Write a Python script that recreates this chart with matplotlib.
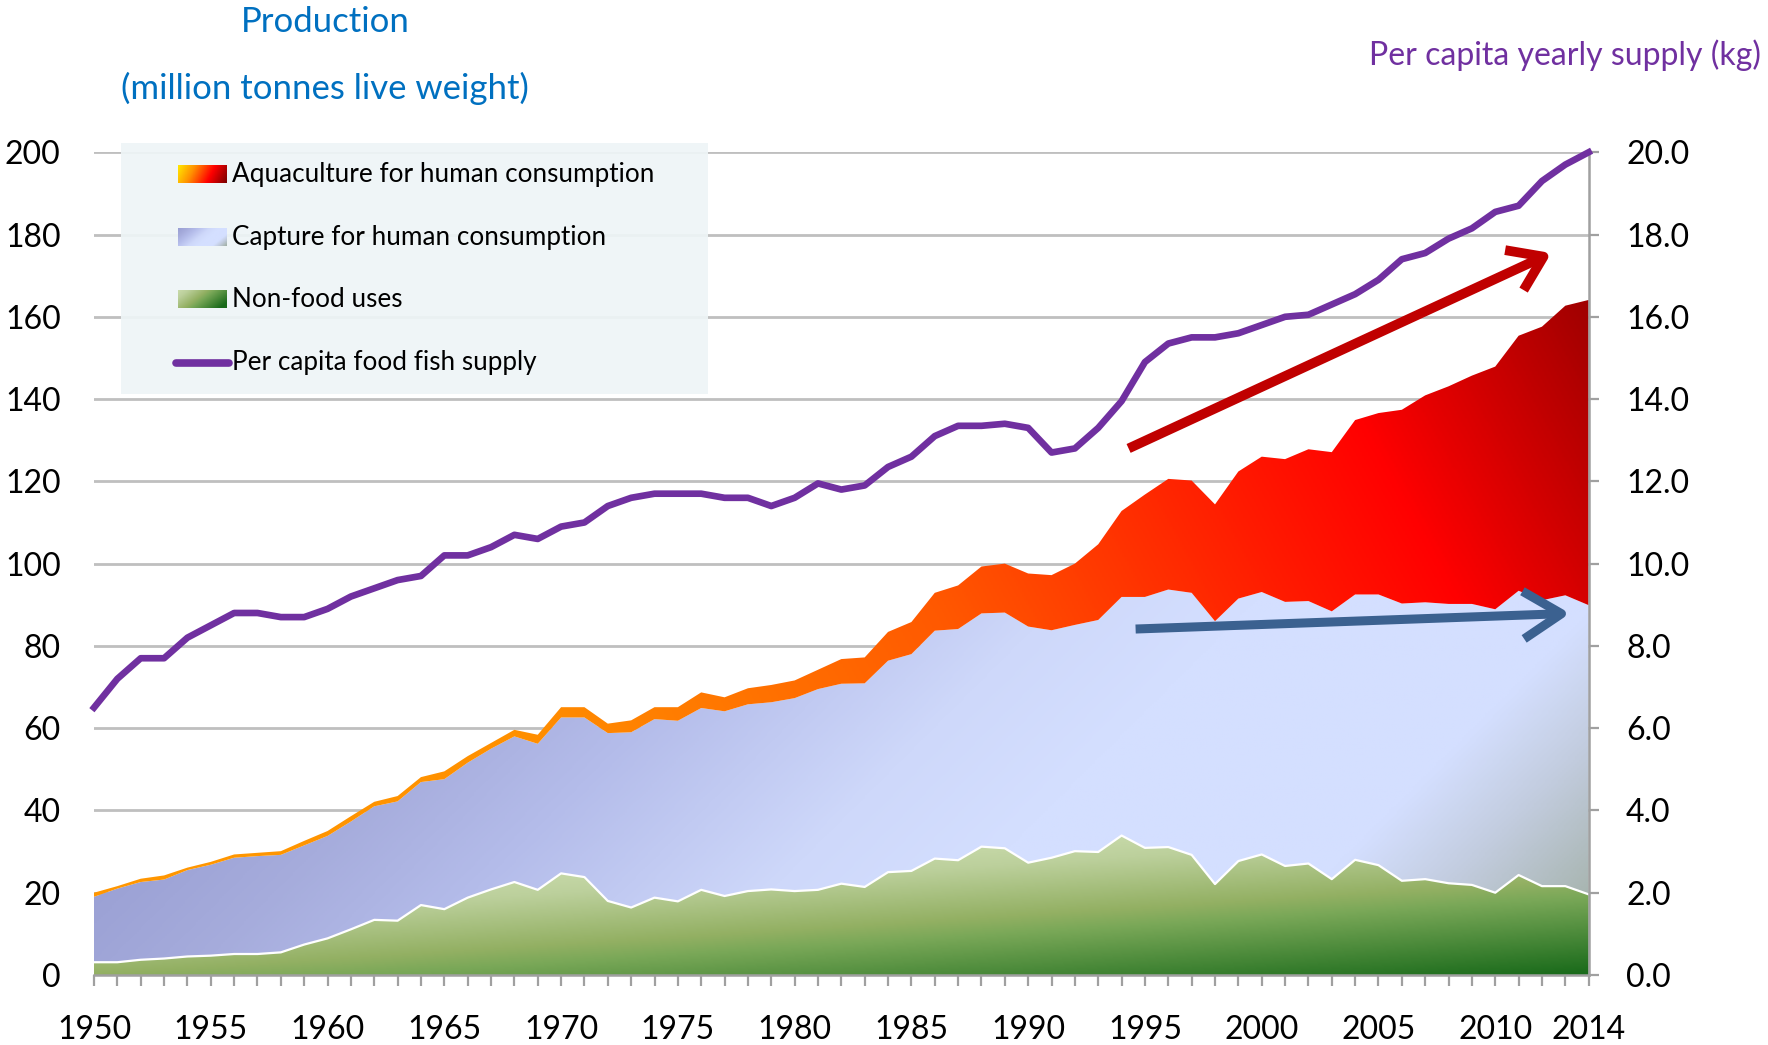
"""
Fish production (food / non-food) and per capita supply, 1950-2014.
Stacked gradient areas + per capita line on a secondary axis.
"""

import matplotlib
matplotlib.use("Agg")
import matplotlib.pyplot as plt
import numpy as np
from matplotlib.colors import LinearSegmentedColormap
from matplotlib.patches import FancyArrowPatch, ArrowStyle

plt.rcParams["font.family"] = ["Lato", "DejaVu Sans"]

# ── Data ─────────────────────────────────────────────────────────────────────
years = np.arange(1950, 2015)

nonfood = [3.1, 3.1, 3.7, 4.0, 4.5, 4.7, 5.1, 5.1, 5.5, 7.4,
           8.9, 11.1, 13.4, 13.2, 17.0, 16.0, 18.8, 20.8, 22.6, 20.7,
           24.7, 23.8, 18.0, 16.4, 18.8, 17.9, 20.7, 19.2, 20.4, 20.8,
           20.4, 20.7, 22.2, 21.4, 25.0, 25.3, 28.3, 27.9, 31.2, 30.8,
           27.3, 28.5, 30.1, 29.9, 33.9, 30.9, 31.1, 29.2, 22.1, 27.7,
           29.3, 26.5, 27.1, 23.3, 28.0, 26.7, 22.9, 23.3, 22.3, 21.9,
           20.0, 24.3, 21.6, 21.6, 19.6]

capture = [15.9, 17.9, 18.9, 19.2, 21.0, 22.1, 23.4, 23.8, 23.7, 24.1,
           24.9, 26.2, 27.6, 29.0, 29.9, 31.6, 32.8, 34.2, 35.4, 35.5,
           37.9, 38.8, 40.8, 42.6, 43.4, 43.9, 44.2, 44.9, 45.4, 45.5,
           46.9, 48.8, 48.6, 49.5, 51.4, 52.7, 55.4, 56.2, 56.7, 57.3,
           57.4, 55.3, 55.0, 56.4, 58.0, 61.0, 62.6, 63.7, 63.9, 63.8,
           63.8, 64.2, 63.8, 65.1, 64.5, 65.8, 67.4, 67.3, 67.9, 68.3,
           68.9, 69.1, 69.5, 70.7, 70.3]

aquaculture = [1.0, 0.6, 0.8, 1.0, 0.6, 0.7, 0.8, 0.8, 0.9, 1.1,
               1.2, 1.3, 1.1, 1.3, 1.2, 1.9, 1.6, 1.4, 1.6, 2.2,
               2.5, 2.5, 2.3, 2.9, 2.9, 3.3, 3.8, 3.4, 3.9, 4.2,
               4.3, 4.7, 6.0, 6.3, 7.0, 7.8, 9.2, 10.6, 11.4, 11.9,
               12.9, 13.4, 14.9, 18.4, 20.9, 24.9, 26.9, 27.3, 28.4, 30.9,
               32.9, 34.7, 36.9, 38.7, 42.4, 44.1, 47.1, 50.3, 52.9, 55.5,
               59.0, 62.0, 66.5, 70.4, 74.2]

per_capita = [6.5, 7.2, 7.7, 7.7, 8.2, 8.5, 8.8, 8.8, 8.7, 8.7,
              8.9, 9.2, 9.4, 9.6, 9.7, 10.2, 10.2, 10.4, 10.7, 10.6,
              10.9, 11.0, 11.4, 11.6, 11.7, 11.7, 11.7, 11.6, 11.6, 11.4,
              11.6, 11.95, 11.8, 11.9, 12.35, 12.6, 13.1, 13.35, 13.35, 13.4,
              13.3, 12.7, 12.8, 13.3, 13.95, 14.9, 15.35, 15.5, 15.5, 15.6,
              15.8, 16.0, 16.05, 16.3, 16.55, 16.9, 17.4, 17.55, 17.9, 18.15,
              18.55, 18.7, 19.3, 19.7, 20.0]

xtick_years = [1950, 1955, 1960, 1965, 1970, 1975, 1980, 1985, 1990,
               1995, 2000, 2005, 2010, 2014]

legend_labels = ["Aquaculture for human consumption",
                 "Capture for human consumption",
                 "Non-food uses",
                 "Per capita food fish supply"]

# trend arrows (start, end) in production units
red_arrow = ((1994.3, 128.0), (2012.4, 175.5))
blue_arrow = ((1994.6, 84.1), (2013.2, 87.9))

# ── Palette ──────────────────────────────────────────────────────────────────
BLUE_TXT = "#0070C0"
PURPLE = "#7030A0"
GRID = "#BFBFBF"
AXIS = "#A0A0A0"

AQUA_STOPS = [(0.0, "#FF9600"), (0.2, "#FF9000"), (0.5, "#FF5800"),
              (0.72, "#FF1A00"), (0.82, "#FF0000"), (1.0, "#9E0000")]
AQUA_LEG_STOPS = [(0.0, "#FFE800"), (0.3, "#FF9000"), (0.65, "#FF0000"),
                  (1.0, "#7A0000")]
CAPT_STOPS = [(0.0, "#949AD0"), (0.18, "#A6ACDC"), (0.30, "#B4BCEA"),
              (0.48, "#CED8FA"), (0.60, "#D4DFFF"), (0.81, "#D4DFFF"),
              (0.89, "#C2CCDE"), (1.0, "#A2B0A6")]
GREEN_STOPS = [(0.0, "#196A1A"), (0.45, "#7AA858"), (0.55, "#93B063"),
               (0.85, "#BCD09C"), (1.0, "#C8DAAA")]

AX_W_PX, AX_H_PX = 1494.0, 823.0


def _cmap(stops):
    return LinearSegmentedColormap.from_list("g", stops)


def _gradient(stops, tfunc, nx=700, ny=420):
    X, Y = np.meshgrid(np.linspace(0, 1, nx), np.linspace(0, 1, ny))
    T = np.clip(tfunc(X, Y), 0, 1)
    return _cmap(stops)(T)


def _aqua_t(X, Y):
    return (X + 0.3 * (Y - 0.5)) / 1.1


def _capt_t(X, Y):
    u = X * AX_W_PX - Y * AX_H_PX
    return (u + 200) / 1650


def _green_t(X, Y):
    return 0.55 - 0.55 * X + 4.76 * Y


# ── Figure ───────────────────────────────────────────────────────────────────
fig = plt.figure(figsize=(17.68, 10.45), dpi=100)
ax = fig.add_axes([0.05317, 0.0670, 0.8454, 0.7873])
ax.set_xlim(1950, 2014)
ax.set_ylim(0, 200)

nf = np.array(nonfood)
cp = nf + np.array(capture)
tot = cp + np.array(aquaculture)

extent = [1950, 2014, 0, 200]
layers = [
    (np.zeros_like(nf), nf, GREEN_STOPS, _green_t),
    (nf, cp, CAPT_STOPS, _capt_t),
    (cp, tot, AQUA_STOPS, _aqua_t),
]
for z, (lo, hi, stops, tf) in enumerate(layers):
    poly = ax.fill_between(years, lo, hi, facecolor="none", edgecolor="none")
    img = ax.imshow(_gradient(stops, tf), extent=extent, origin="lower",
                    aspect="auto", interpolation="bilinear", zorder=2 + z * 0.1)
    img.set_clip_path(poly.get_paths()[0], transform=ax.transData)

ax.plot(years, nf, color="white", linewidth=1.6, zorder=2.5)
ax.set_xlim(1950, 2014)
ax.set_ylim(0, 200)

# grid and axes styling
ax.set_axisbelow(True)
ax.yaxis.grid(True, color=GRID, linewidth=2)
ax.set_yticks(range(0, 201, 20))
ax.tick_params(axis="y", length=0, pad=24, labelsize=23, colors="black")
for side in ("left", "top", "right"):
    ax.spines[side].set_visible(False)
ax.spines["bottom"].set_color(AXIS)
ax.spines["bottom"].set_linewidth(1.8)
ax.spines["bottom"].set_zorder(3)

ax.set_xticks(xtick_years)
ax.set_xticklabels([str(y) for y in xtick_years])
ax.set_xticks(years, minor=True)
ax.tick_params(axis="x", which="both", direction="out", length=8,
               width=1.6, color=AXIS)
ax.tick_params(axis="x", which="major", pad=21, labelsize=23)

# secondary axis
ax2 = ax.twinx()
ax2.set_ylim(0, 20)
ax2.set_yticks(np.arange(0, 20.1, 2))
ax2.set_yticklabels([f"{v:.1f}" for v in np.arange(0, 20.1, 2)])
ax2.tick_params(axis="y", length=7, width=1.6, color=AXIS, pad=20, labelsize=23)
for side in ("left", "top", "bottom"):
    ax2.spines[side].set_visible(False)
ax2.spines["right"].set_color(AXIS)
ax2.spines["right"].set_linewidth(1.8)

ax2.plot(years, per_capita, color=PURPLE, linewidth=4.8, zorder=5,
         solid_joinstyle="round", clip_on=False)

# trend arrows
for (p0, p1), col, lw, hl, hw in [
    (red_arrow, "#C00000", 7.0, 1.05, 0.72),
    (blue_arrow, "#3B6190", 6.5, 1.25, 0.78),
]:
    arr = FancyArrowPatch(p0, p1, transform=ax.transData,
                          arrowstyle=ArrowStyle("->", head_length=hl, head_width=hw),
                          mutation_scale=22, color=col, linewidth=lw,
                          shrinkA=0, shrinkB=0, capstyle="butt",
                          joinstyle="round", zorder=6)
    ax2.add_patch(arr)

# ── Titles ───────────────────────────────────────────────────────────────────
fig.text(0.1838, 0.979, "Production", ha="center", va="center",
         color=BLUE_TXT, fontsize=25)
fig.text(0.1838, 0.915, "(million tonnes live weight)", ha="center",
         va="center", color=BLUE_TXT, fontsize=25)
fig.text(0.996, 0.947, "Per capita yearly supply (kg)", ha="right",
         va="center", color=PURPLE, fontsize=23)

# ── Legend (custom, gradient swatches) ───────────────────────────────────────
lg = fig.add_axes([0.0684, 0.623, 0.332, 0.240], zorder=10)
lg.set_xlim(0, 1)
lg.set_ylim(0, 1)
lg.set_facecolor("#EEF5F7")
lg.patch.set_alpha(0.92)
lg.set_xticks([])
lg.set_yticks([])
for s in lg.spines.values():
    s.set_visible(False)

rows = [0.876, 0.625, 0.375, 0.124]
sw_x0, sw_x1, sw_h = 0.097, 0.180, 0.068

swatches = [
    (AQUA_LEG_STOPS, lambda X, Y: 0.85 * X + 0.15 * (1 - Y)),
    (CAPT_STOPS, lambda X, Y: 0.05 + 0.95 * (0.7 * X + 0.3 * (1 - Y))),
    (GREEN_STOPS, lambda X, Y: 1.0 - 0.75 * X - 0.35 * (1 - Y)),
]
for (stops, tf), yc in zip(swatches, rows[:3]):
    lg.imshow(_gradient(stops, tf, nx=80, ny=20),
              extent=[sw_x0, sw_x1, yc - sw_h / 2, yc + sw_h / 2],
              origin="lower", aspect="auto", interpolation="bilinear")
lg.plot([sw_x0 - 0.004, sw_x1 + 0.004], [rows[3], rows[3]], color=PURPLE,
        linewidth=5.5, solid_capstyle="round")
lg.set_xlim(0, 1)
lg.set_ylim(0, 1)

for label, yc in zip(legend_labels, rows):
    lg.text(0.189, yc, label, ha="left", va="center", fontsize=18.8,
            color="black")

fig.savefig("out.png", dpi=100, facecolor="white")
